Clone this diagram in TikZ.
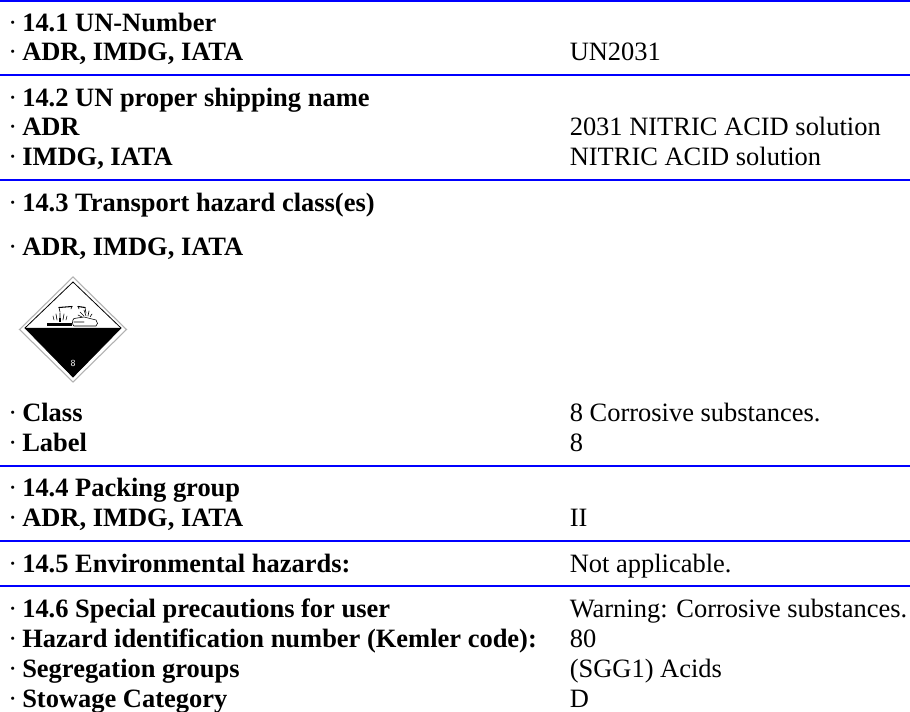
\documentclass[tikz,border=0pt]{standalone}
\usepackage{fontspec}
\setmainfont{Liberation Serif}
\tikzset{x=0.75pt,y=-0.75pt,
 rulel/.style={draw=blue,line width=1.15pt},
 lab/.style={anchor=base west,inner sep=0pt,font=\fontsize{19.85}{24}\selectfont\bfseries},
 val/.style={anchor=base west,inner sep=0pt,font=\fontsize{19.85}{24}\selectfont},
 pic1/.style={draw=black,line width=0.45pt,line cap=round},
 pic2/.style={draw=black,line width=0.8pt,line cap=round}}
\newcommand{\dotm}{\textmd{·}\hspace{3.9pt}}
\begin{document}
\begin{tikzpicture}
\useasboundingbox (0,0) rectangle (910,712);
\fill[white] (0,0) rectangle (910,712);
\foreach \y in {1,75,180,466,541,586}{\draw[rulel] (0,\y) -- (910,\y);}
% left labels
\node[lab] (a1) at (8,32) {\dotm 14.1 UN-Number};
\node[lab] (a2) at (8,61) {\dotm ADR, IMDG, IATA};
\node[lab] (a3) at (8,107) {\dotm 14.2 UN proper shipping name};
\node[lab] (a4) at (8,136) {\dotm ADR};
\node[lab] (a5) at (8,166) {\dotm IMDG, IATA};
\node[lab] (a6) at (8,212) {\dotm 14.3 Transport hazard class(es)};
\node[lab] (a7) at (8,256) {\dotm ADR, IMDG, IATA};
\node[lab] (a8) at (8,422) {\dotm Class};
\node[lab] (a8b) at (8,452) {\dotm Label};
\node[lab] (a9) at (8,497) {\dotm 14.4 Packing group};
\node[lab] (a10) at (8,527) {\dotm ADR, IMDG, IATA};
\node[lab] (a11) at (8,572) {\dotm 14.5 Environmental hazards:};
\node[lab] (a12) at (8,617) {\dotm 14.6 Special precautions for user};
\node[lab] (a13) at (8,647) {\dotm Hazard identification number (Kemler code):};
\node[lab] (a14) at (8,677) {\dotm Segregation groups};
\node[lab] (a15) at (8,707) {\dotm Stowage Category};
% values
\node[val] (v1) at (569.5,61) {UN2031};
\node[val] (v2) at (569.5,136) {2031 NITRIC ACID solution};
\node[val] (v3) at (569.5,166) {NITRIC ACID solution};
\node[val] (v4) at (569.5,422) {8 Corrosive substances.};
\node[val] (v5) at (569.5,452) {8};
\node[val] (v6) at (569.5,527) {II};
\node[val] (v7) at (569.5,572) {Not applicable.};
\node[val] (v8) at (569.5,617) {Warning: Corrosive substances.};
\node[val] (v9) at (569.5,647) {80};
\node[val] (v10) at (569.5,677) {(SGG1) Acids};
\node[val] (v11) at (569.5,707) {D};
% placard
\draw[black!30,line width=0.8pt] (73,277) -- (126.5,329.5) -- (73,382) -- (19.5,329.5) -- cycle;
\draw[black,line width=0.6pt] (73,282) -- (121,328) -- (73,377) -- (25,328) -- cycle;
\fill[black] (25,328) -- (121,328) -- (73,377) -- cycle;
\node[inner sep=0pt,text=white,font=\fontsize{7}{8}\selectfont\sffamily] (n8) at (73,363) {8};
% corrosion pictogram
\fill[black] (47,323) rectangle (72,326);
\draw[pic2] (59,307.5) -- (72,306.5) (78,306.5) -- (85,307.5);
\draw[pic1] (59,307.5) -- (60,312) (72,306.5) -- (71,309) (78,306.5) -- (79,309) (85,307.5) -- (86,313);
\draw[pic1] (54,320) -- (53,316) (57,320) -- (56,314) (60,321) -- (60,313) (63,320) -- (64,314) (66,320) -- (67,316);
\fill[black] (59,318) rectangle (61,322);
\draw[pic1] (74,318.5) -- (84,317) -- (96,320) (74,326) -- (96,326) (74,322) -- (84,322)
 (74,318.5) .. controls (72,320) and (72,325) .. (74,326)
 (96,320) .. controls (98,322) and (98,325) .. (96,326);
\draw[pic1] (80,312) -- (84,316) (84,310) -- (86,316) (89,311) -- (88,316) (92,314) -- (90,317) (78,315) -- (82,317);
\end{tikzpicture}
\end{document}
